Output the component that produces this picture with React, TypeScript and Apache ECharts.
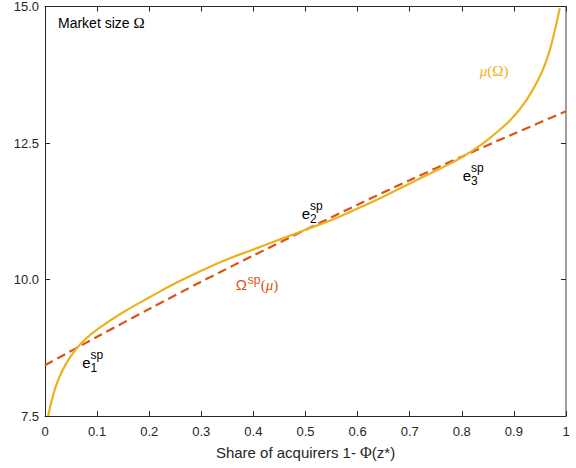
import React, { useEffect, useRef } from "react";
import * as echarts from "echarts";

// Ω^sp(μ): planner's market size, sampled on the share grid
const spShare = [0, 0.1, 0.2, 0.3, 0.4, 0.5, 0.6, 0.7, 0.8, 0.9, 1.0];
const spOmega = [8.43, 8.95, 9.46, 9.96, 10.44, 10.91, 11.37, 11.82, 12.25, 12.67, 13.08];

// μ(Ω): equilibrium curve
const muShare = [
  0.006, 0.015, 0.025, 0.04, 0.06, 0.08, 0.11, 0.15, 0.2, 0.25, 0.3, 0.35, 0.4, 0.45, 0.5,
  0.55, 0.6, 0.65, 0.7, 0.75, 0.8, 0.84, 0.87, 0.9, 0.925, 0.945, 0.962, 0.976, 0.988,
];
const muOmega = [
  7.5, 7.86, 8.15, 8.45, 8.73, 8.93, 9.15, 9.4, 9.67, 9.93, 10.16, 10.37, 10.55, 10.73, 10.91,
  11.09, 11.3, 11.52, 11.76, 11.99, 12.24, 12.49, 12.72, 12.99, 13.3, 13.63, 14.0, 14.46, 14.97,
];

// equilibrium labels e_i^sp (anchor = centre of the "e")
const eqIndex = ["1", "2", "3"];
const eqLabelX = [0.0797, 0.501, 0.81];
const eqLabelY = [8.485, 11.21, 11.907];

// curve name anchors
const muLabelAt = [0.862, 13.81];
const spLabelAt = [0.366, 9.91];

const YELLOW = "#EDB120";
const ORANGE = "#D95319";
const INK = "#262626";
const SANS = '"Liberation Sans", Arial, Helvetica, sans-serif';
const SERIF = '"Liberation Serif", "Times New Roman", serif';

const pairs = (xs: number[], ys: number[]) => xs.map((x, i) => [x, ys[i]]);

export default function App() {
  const ref = useRef<HTMLDivElement>(null);

  useEffect(() => {
    if (!ref.current) return;
    const chart = echarts.init(ref.current, null, { renderer: "svg" });

    const tickFmt = (v: number) => (v === 0 ? "0" : v === 1 ? "1" : v.toFixed(1));

    chart.setOption({
      animation: false,
      grid: { left: 45, right: 10, top: 5, bottom: 52, containLabel: false },
      xAxis: [
        {
          type: "value",
          position: "bottom",
          min: 0,
          max: 1,
          interval: 0.1,
          axisLine: { show: true, onZero: false, lineStyle: { color: INK, width: 1 } },
          axisTick: { show: true, inside: true, length: 5, lineStyle: { color: INK } },
          axisLabel: { color: INK, fontSize: 13, fontFamily: SANS, margin: 9, formatter: tickFmt },
          splitLine: { show: false },
          name: "{t|Share of acquirers 1- }{g|Φ}{t|(z*)}",
          nameLocation: "middle",
          nameGap: 28,
          nameTextStyle: {
            rich: {
              t: { fontSize: 15, fontFamily: SANS, color: INK },
              g: { fontSize: 16, fontFamily: SERIF, color: INK },
            },
          },
        },
        {
          type: "value",
          position: "top",
          min: 0,
          max: 1,
          interval: 0.1,
          axisLine: { show: true, onZero: false, lineStyle: { color: INK, width: 1 } },
          axisTick: { show: true, inside: true, length: 5, lineStyle: { color: INK } },
          axisLabel: { show: false },
          splitLine: { show: false },
        },
      ],
      yAxis: [
        {
          type: "value",
          position: "left",
          min: 7.5,
          max: 15,
          interval: 2.5,
          axisLine: { show: true, onZero: false, lineStyle: { color: INK, width: 1 } },
          axisTick: { show: true, inside: true, length: 5, lineStyle: { color: INK } },
          axisLabel: {
            color: INK,
            fontSize: 13,
            fontFamily: SANS,
            margin: 6,
            formatter: (v: number) => v.toFixed(1),
          },
          splitLine: { show: false },
        },
        {
          type: "value",
          position: "right",
          min: 7.5,
          max: 15,
          interval: 2.5,
          axisLine: { show: true, onZero: false, lineStyle: { color: "#8a8a8a", width: 1.6 } },
          axisTick: { show: true, inside: true, length: 5, lineStyle: { color: INK } },
          axisLabel: { show: false },
          splitLine: { show: false },
        },
      ],
      series: [
        {
          name: "Ω^sp(μ)",
          type: "line",
          xAxisIndex: 0,
          yAxisIndex: 0,
          data: pairs(spShare, spOmega),
          smooth: 0.3,
          symbol: "none",
          lineStyle: { color: ORANGE, width: 2.2, type: [9, 5] },
          z: 2,
        },
        {
          name: "μ(Ω)",
          type: "line",
          xAxisIndex: 0,
          yAxisIndex: 0,
          data: pairs(muShare, muOmega),
          smooth: 0.5,
          symbol: "none",
          lineStyle: { color: YELLOW, width: 2.2 },
          z: 3,
        },
      ],
    });

    const toPx = (x: number, y: number) =>
      chart.convertToPixel({ xAxisIndex: 0, yAxisIndex: 0 }, [x, y]) as number[];

    const txt = (
      x: number,
      y: number,
      text: string,
      size: number,
      color: string,
      family: string,
      align = "left",
      fontStyle = "normal"
    ) => ({
      type: "text",
      x,
      y,
      silent: true,
      z: 10,
      style: {
        text,
        fill: color,
        fontSize: size,
        fontFamily: family,
        fontStyle,
        align,
        verticalAlign: "middle",
      },
    });

    const graphics: any[] = [];

    // title inside the box
    graphics.push({
      type: "text",
      x: 58,
      y: 23,
      silent: true,
      z: 10,
      style: {
        text: "{t|Market size }{g|Ω}",
        verticalAlign: "middle",
        rich: {
          t: { fontSize: 14, fontFamily: SANS, fill: "#000" },
          g: { fontSize: 15, fontFamily: SERIF, fill: "#000" },
        },
      },
    });

    // e_i^sp labels
    eqIndex.forEach((k, i) => {
      const [px, py] = toPx(eqLabelX[i], eqLabelY[i]);
      graphics.push(txt(px, py, "e", 15, "#000", SANS, "center"));
      graphics.push(txt(px + 4, py - 7, "sp", 12, "#000", SANS));
      graphics.push(txt(px + 4, py + 5.5, k, 12, "#000", SANS));
    });

    // μ(Ω)
    {
      const [px, py] = toPx(muLabelAt[0], muLabelAt[1]);
      graphics.push({
        type: "text",
        x: px,
        y: py,
        silent: true,
        z: 10,
        style: {
          text: "{m|μ}{p|(Ω)}",
          align: "center",
          verticalAlign: "middle",
          rich: {
            m: { fontSize: 15, fontFamily: SERIF, fontStyle: "italic", fill: YELLOW },
            p: { fontSize: 15, fontFamily: SERIF, fill: YELLOW },
          },
        },
      });
    }

    // Ω^sp(μ)
    {
      const [px, py] = toPx(spLabelAt[0], spLabelAt[1]);
      graphics.push(txt(px, py, "Ω", 15, ORANGE, SANS));
      graphics.push(txt(px + 12, py - 4, "sp", 12, ORANGE, SANS));
      graphics.push({
        type: "text",
        x: px + 25,
        y: py + 1,
        silent: true,
        z: 10,
        style: {
          text: "{p|(}{m|μ}{p|)}",
          verticalAlign: "middle",
          rich: {
            p: { fontSize: 15, fontFamily: SERIF, fill: ORANGE },
            m: { fontSize: 15, fontFamily: SERIF, fontStyle: "italic", fill: ORANGE },
          },
        },
      });
    }

    chart.setOption({ graphic: graphics });

    return () => chart.dispose();
  }, []);

  return (
    <div
      ref={ref}
      style={{ position: "absolute", left: 0, top: 0, width: 576, height: 468, background: "#fff" }}
    />
  );
}
